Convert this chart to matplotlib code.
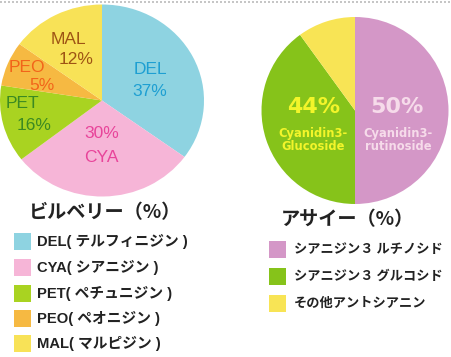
import matplotlib
matplotlib.use("Agg")
import matplotlib.pyplot as plt
from matplotlib.lines import Line2D

plt.rcParams['font.family'] = ['Noto Sans CJK JP', 'DejaVu Sans']

W, H = 451, 357

# ---- Data (left: bilberry) ----
bil_names = ["DEL", "CYA", "PET", "PEO", "MAL"]
bil_values = [35, 29.5, 13, 7.5, 15]          # slice sizes as drawn
bil_labels = ["37%", "30%", "16%", "5%", "12%"]  # printed labels
bil_legend = ["DEL( テルフィニジン )", "CYA( シアニジン )", "PET( ペチュニジン )",
              "PEO( ペオニジン )", "MAL( マルピジン )"]
bil_colors = ["#8ed3e1", "#f6b5d7", "#a9d321", "#f6b942", "#f8e257"]
bil_text_colors = ["#1e9fd2", "#e8449a", "#3b8a22", "#f2641a", "#9e5414"]

# ---- Data (right: acai) ----
acai_values = [50, 40, 10]
acai_labels = ["50%", "44%"]
acai_sub = ["Cyanidin3-\nrutinoside", "Cyanidin3-\nGlucoside"]
acai_legend = ["シアニジン３ ルチノシド", "シアニジン３ グルコシド", "その他アントシアニン"]
acai_colors = ["#d497c7", "#86c31a", "#f8e455"]

fig = plt.figure(figsize=(W / 100, H / 100), dpi=100)


def pie_axes(cx, cy, rx, ry):
    return fig.add_axes([(cx - rx) / W, (H - cy - ry) / H, 2 * rx / W, 2 * ry / H])


# Left pie
axl = pie_axes(102, 100.5, 102, 96)
wl, _ = axl.pie(bil_values, colors=bil_colors, startangle=90, counterclock=False,
                wedgeprops=dict(linewidth=0))
axl.set_aspect('auto')
axl.set_xlim(-1, 1)
axl.set_ylim(-1, 1)
axl.axis('off')
for w in wl:
    w.set_clip_on(False)

# Right pie
axr = pie_axes(355, 110.5, 93.5, 93.5)
wr, _ = axr.pie(acai_values, colors=acai_colors, startangle=90, counterclock=False,
                wedgeprops=dict(linewidth=0))
axr.set_aspect('auto')
axr.set_xlim(-1, 1)
axr.set_ylim(-1, 1)
axr.axis('off')
for w in wr:
    w.set_clip_on(False)

# Overlay in pixel coordinates
ov = fig.add_axes([0, 0, 1, 1])
ov.set_xlim(0, W)
ov.set_ylim(H, 0)
ov.axis('off')
ov.patch.set_alpha(0)

# dotted top border
ov.add_line(Line2D([0, W], [1.5, 1.5], color="#c6c6c6", lw=1.44,
                   linestyle=(0, (1, 1))))

lab_font = dict(family=['Liberation Sans', 'DejaVu Sans'], fontsize=12.5,
                ha='center', va='center')
# bilberry slice labels: (name pos, pct pos)
pos = {
    "DEL": ((150, 69), (150, 92)),
    "CYA": ((101, 157), (102, 134)),
    "PET": ((22, 104), (34, 126)),
    "PEO": ((27, 67), (42, 85)),
    "MAL": ((68, 39), (76, 60)),
}
for name, pct, col in zip(bil_names, bil_labels, bil_text_colors):
    (nx, ny), (px, py) = pos[name]
    ov.text(nx, ny, name, color=col, **lab_font)
    ov.text(px, py, pct, color=col, **lab_font)

# acai labels
ov.text(397, 107, acai_labels[0], color="#f6dbea", fontsize=16, fontweight='bold',
        ha='center', va='center', family=['DejaVu Sans'])
ov.text(398, 140, acai_sub[0], color="#f6dbea", fontsize=8.3, fontweight='bold',
        ha='center', va='center', linespacing=1.05, family=['DejaVu Sans'])
ov.text(314, 107, acai_labels[1], color="#f3f52a", fontsize=16, fontweight='bold',
        ha='center', va='center', family=['DejaVu Sans'])
ov.text(313, 140, acai_sub[1], color="#f3f52a", fontsize=8.3, fontweight='bold',
        ha='center', va='center', linespacing=1.05, family=['DejaVu Sans'])

# Legend titles
ov.text(29, 213, "ビルベリー（%）", fontsize=13.8, fontweight='bold', ha='left',
        va='center', color="#222222")
ov.text(281, 220, "アサイー（%）", fontsize=13.8, fontweight='bold', ha='left',
        va='center', color="#222222")

# Left legend
ly = [241, 267, 293, 318.5, 343.5]
for y, txt, col in zip(ly, bil_legend, bil_colors):
    ov.add_patch(plt.Rectangle((14, y - 8.5), 17, 17, color=col, lw=0))
    ov.text(37, y, txt, fontsize=10.6, fontweight='bold', ha='left', va='center',
            color="#222222", family=['Liberation Sans', 'Noto Sans CJK JP'])

# Right legend
ry = [249.5, 276, 303]
for y, txt, col in zip(ry, acai_legend, acai_colors):
    ov.add_patch(plt.Rectangle((269, y - 8.5), 17, 17, color=col, lw=0))
    ov.text(294, y, txt, fontsize=9.5, fontweight='bold', ha='left', va='center',
            color="#222222")

fig.savefig("out.png", dpi=100)
